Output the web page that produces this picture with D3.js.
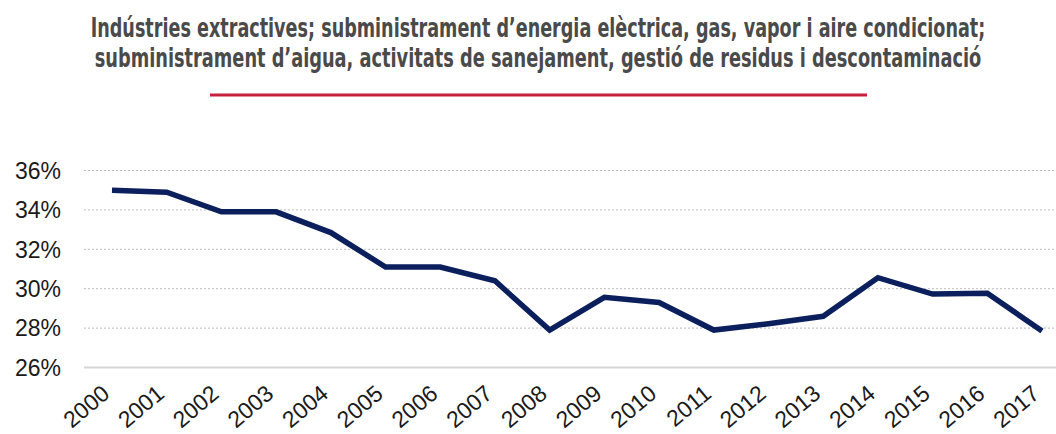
<!DOCTYPE html>
<html>
<head>
<meta charset="utf-8">
<script src="https://cdn.jsdelivr.net/npm/d3@7"></script>
<style>
  body { margin: 0; background: #fff; }
  svg { display: block; }
</style>
</head>
<body>
<svg width="1056" height="434"></svg>
<script>
// dades
var years = ["2000","2001","2002","2003","2004","2005","2006","2007","2008",
             "2009","2010","2011","2012","2013","2014","2015","2016","2017"];
var values = [35.0, 34.9, 33.9, 33.9, 32.85, 31.1, 31.1, 30.4, 27.9,
              29.56, 29.3, 27.9, 28.22, 28.6, 30.56, 29.73, 29.77, 27.85];
var yTicks = [26, 28, 30, 32, 34, 36];
var titleLines = [
  "Indústries extractives; subministrament d\u2019energia elèctrica, gas, vapor i aire condicionat;",
  "subministrament d\u2019aigua, activitats de sanejament, gestió de residus i descontaminació"
];
var titleWidths = [895, 887];

var svg = d3.select("svg");

// titol: es mesura l'amplada i s'estreny amb scale() per fer-la "condensed"
svg.selectAll("text.titol")
   .data(titleLines)
   .enter()
   .append("text")
   .attr("class","titol")
   .attr("text-anchor","middle")
   .style("font-family","'Liberation Sans Narrow','DejaVu Sans Condensed','Roboto Condensed','Open Sans',sans-serif")
   .style("font-stretch","condensed")
   .style("font-weight","bold")
   .style("font-size","26.5px")
   .style("fill","#4a4a4a")
   .text(function(d){ return d; })
   .attr("transform", function(d,i){
      var w = this.getComputedTextLength();
      return "translate(538," + (37 + i*30) + ") scale(" + (titleWidths[i]/w) + ",1)";
   });

svg.append("line")
   .attr("x1",210).attr("x2",867)
   .attr("y1",95).attr("y2",95)
   .attr("stroke","#c8203c")
   .attr("stroke-width",3);

// escales
var x = d3.scalePoint().domain(years).range([112, 1042]);
var y = d3.scaleLinear().domain([26, 36]).range([367.5, 170.5]);

// graella
svg.selectAll("line.grid")
   .data(yTicks.filter(function(t){ return t > 26; }))
   .enter()
   .append("line")
   .attr("class","grid")
   .attr("x1",84).attr("x2",1056)
   .attr("y1",function(d){ return y(d); })
   .attr("y2",function(d){ return y(d); })
   .attr("stroke","#bdbdbd")
   .attr("stroke-width",1)
   .attr("stroke-dasharray","2,2");

// eix inferior
svg.append("line")
   .attr("x1",84).attr("x2",1056)
   .attr("y1",y(26)).attr("y2",y(26))
   .attr("stroke","#d6d6d6")
   .attr("stroke-width",2);

// etiquetes eix Y
svg.selectAll("text.ylab")
   .data(yTicks)
   .enter()
   .append("text")
   .attr("class","ylab")
   .attr("x",61)
   .attr("y",function(d){ return y(d); })
   .attr("dy","0.36em")
   .attr("text-anchor","end")
   .style("font-family","'Liberation Sans',Arial,sans-serif")
   .style("font-size","23px")
   .style("fill","#1a1a1a")
   .text(function(d){ return d + "%"; });

// etiquetes eix X
svg.selectAll("text.xlab")
   .data(years)
   .enter()
   .append("text")
   .attr("class","xlab")
   .attr("transform",function(d){ return "translate(" + (x(d) - 1) + ",396) rotate(-40)"; })
   .attr("text-anchor","end")
   .style("font-family","'Liberation Sans',Arial,sans-serif")
   .style("font-size","23px")
   .style("fill","#1a1a1a")
   .text(function(d){ return d; });

// linia
var line = d3.line()
   .x(function(d,i){ return x(years[i]); })
   .y(function(d){ return y(d); });

svg.append("path")
   .datum(values)
   .attr("d", line)
   .attr("fill","none")
   .attr("stroke","#0b1f5c")
   .attr("stroke-width",5.5)
   .attr("stroke-linejoin","miter");
</script>
</body>
</html>
